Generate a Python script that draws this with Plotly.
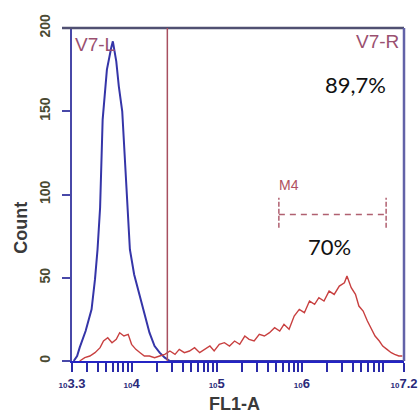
import plotly.graph_objects as go
import numpy as np

# ---------------- data (x in log10 units of FL1-A) ----------------
blue_log = [3.32, 3.36, 3.39, 3.46, 3.53, 3.57, 3.60, 3.63, 3.66, 3.71, 3.76, 3.78,
            3.82, 3.85, 3.89, 3.92, 3.94, 3.98, 4.03, 4.07, 4.12, 4.17, 4.21, 4.27,
            4.33, 4.39, 4.45, 5.0, 6.0, 7.2]
blue_count = [0, 3, 8, 18, 31, 49, 67, 92, 145, 175, 188, 192,
              180, 165, 150, 120, 100, 67, 52, 44, 35, 25, 17, 9,
              5, 2, 0, 0, 0, 0]

red_log = [3.39, 3.45, 3.51, 3.57, 3.63, 3.67, 3.72, 3.77, 3.82, 3.86, 3.91, 3.96,
           4.00, 4.05, 4.10, 4.15, 4.21, 4.27, 4.33, 4.39, 4.45, 4.51, 4.56, 4.62,
           4.68, 4.74, 4.80, 4.86, 4.92, 4.97, 5.03, 5.09, 5.15, 5.21, 5.27, 5.33,
           5.38, 5.44, 5.50, 5.56, 5.62, 5.68, 5.74, 5.79, 5.85, 5.91, 5.97, 6.03,
           6.09, 6.15, 6.20, 6.26, 6.32, 6.38, 6.44, 6.50, 6.53, 6.58, 6.63, 6.67,
           6.72, 6.77, 6.81, 6.86, 6.91, 6.95, 7.00, 7.05, 7.09, 7.14, 7.18]
red_count = [0, 2, 3, 5, 8, 12, 14, 11, 13, 17, 15, 16,
             10, 7, 5, 3, 3, 2, 3, 4, 6, 4, 7, 5,
             6, 8, 5, 7, 9, 6, 10, 11, 9, 12, 10, 15,
             13, 12, 16, 15, 17, 20, 18, 22, 19, 27, 31, 29,
             36, 34, 38, 36, 42, 40, 45, 47, 51, 44, 40, 33,
             30, 24, 20, 15, 12, 9, 7, 5, 4, 3, 3]

gate_log = 4.42                 # V7 boundary
m4_start_log, m4_end_log, m4_level = 5.73, 6.99, 88
x_label_exps = [3.3, 4, 5, 6, 7.2]
y_ticks = [0, 50, 100, 150, 200]
x_range_log = [3.3, 7.2]

# ---------------- figure ----------------
fig = go.Figure()
fig.add_trace(go.Scatter(x=[10 ** v for v in blue_log], y=blue_count, mode="lines",
                         line=dict(color="#3535a8", width=2), hoverinfo="skip"))
fig.add_trace(go.Scatter(x=[10 ** v for v in red_log], y=red_count, mode="lines",
                         line=dict(color="#c84040", width=1.4), hoverinfo="skip"))

# x ticks: labels at given exponents, minor unlabeled ticks at k*10^n
tickvals, ticktext = [], []
for e in x_label_exps:
    tickvals.append(10 ** e)
    ticktext.append("<span style='font-size:8px'>10</span>" + ("%g" % e))
for n in range(3, 8):
    for k in range(2, 10):
        v = k * 10 ** n
        if 10 ** x_range_log[0] * 1.05 < v < 10 ** x_range_log[1]:
            tickvals.append(v)
            ticktext.append("")

fig.update_xaxes(type="log", range=x_range_log, showgrid=False, zeroline=False,
                 automargin=False,
                 showline=True, linecolor="#2424c4", linewidth=2,
                 ticks="outside", ticklen=9, tickwidth=1.5, tickcolor="#2a2aa8",
                 tickmode="array", tickvals=tickvals, ticktext=ticktext,
                 tickfont=dict(family="Liberation Sans", size=13, color="#2a2a7a",
                               weight="bold"))
fig.update_yaxes(range=[0, 200], showgrid=False, zeroline=False, automargin=False,
                 showline=True, linecolor="#4848a8", linewidth=2,
                 ticks="outside", ticklen=8, tickwidth=1.5, tickcolor="#4848a8",
                 tickmode="array", tickvals=y_ticks, tickangle=-90,
                 ticklabelstandoff=6,
                 tickfont=dict(family="Liberation Sans", size=14, color="#4a4a32",
                               weight="bold"))

# top and right frame lines
fig.add_shape(type="line", xref="paper", yref="paper", x0=-0.03, x1=1, y0=1, y1=1,
              line=dict(color="#505072", width=2.5))
fig.add_shape(type="line", xref="paper", yref="paper", x0=1, x1=1, y0=0, y1=1,
              line=dict(color="#6262a8", width=2.5))
# gate line
fig.add_shape(type="line", xref="x", yref="paper", x0=10 ** gate_log, x1=10 ** gate_log,
              y0=0, y1=1, line=dict(color="#a85060", width=1.5))
# M4 marker
fig.add_shape(type="line", xref="x", yref="y", x0=10 ** m4_start_log, x1=10 ** m4_end_log,
              y0=m4_level, y1=m4_level, line=dict(color="#b06070", width=1.5, dash="6px,5px"))
for xe in (m4_start_log, m4_end_log):
    fig.add_shape(type="line", xref="x", yref="y", x0=10 ** xe, x1=10 ** xe,
                  y0=m4_level - 8, y1=m4_level + 10,
                  line=dict(color="#b06070", width=1.5, dash="5px,2px"))

ann = dict(showarrow=False)
fig.add_annotation(x=3.31, y=190, xref="x", yref="y", text="V7-L", xanchor="left",
                   font=dict(family="Liberation Sans", size=19, color="#9a5070"), **ann)
fig.add_annotation(x=0.99, y=192, xref="paper", yref="y", text="V7-R", xanchor="right",
                   font=dict(family="Liberation Sans", size=19, color="#9a5070"), **ann)
fig.add_annotation(x=6.63, y=166, xref="x", yref="y", text="89,7%", xanchor="center",
                   font=dict(family="Lato", size=22, color="#111111"), **ann)
fig.add_annotation(x=5.85, y=106, xref="x", yref="y", text="M4", xanchor="center",
                   font=dict(family="Liberation Sans", size=14, color="#b05060"), **ann)
fig.add_annotation(x=6.33, y=69, xref="x", yref="y", text="70%", xanchor="center",
                   font=dict(family="Lato", size=22, color="#111111"), **ann)
fig.add_annotation(x=0.49, y=-0.128, xref="paper", yref="paper", text="FL1-A",
                   xanchor="center", yanchor="middle",
                   font=dict(family="Liberation Sans", size=18, color="#3a3a3a",
                             weight="bold"), **ann)
fig.add_annotation(x=-0.154, y=0.40, xref="paper", yref="paper", text="Count", textangle=-90,
                   xanchor="center", yanchor="middle",
                   font=dict(family="Liberation Sans", size=18, color="#3a3a3a",
                             weight="bold"), **ann)

fig.update_layout(width=420, height=416, margin=dict(l=72, r=16, t=28, b=55),
                  paper_bgcolor="white", plot_bgcolor="white", showlegend=False)

fig.write_html("out.html")
